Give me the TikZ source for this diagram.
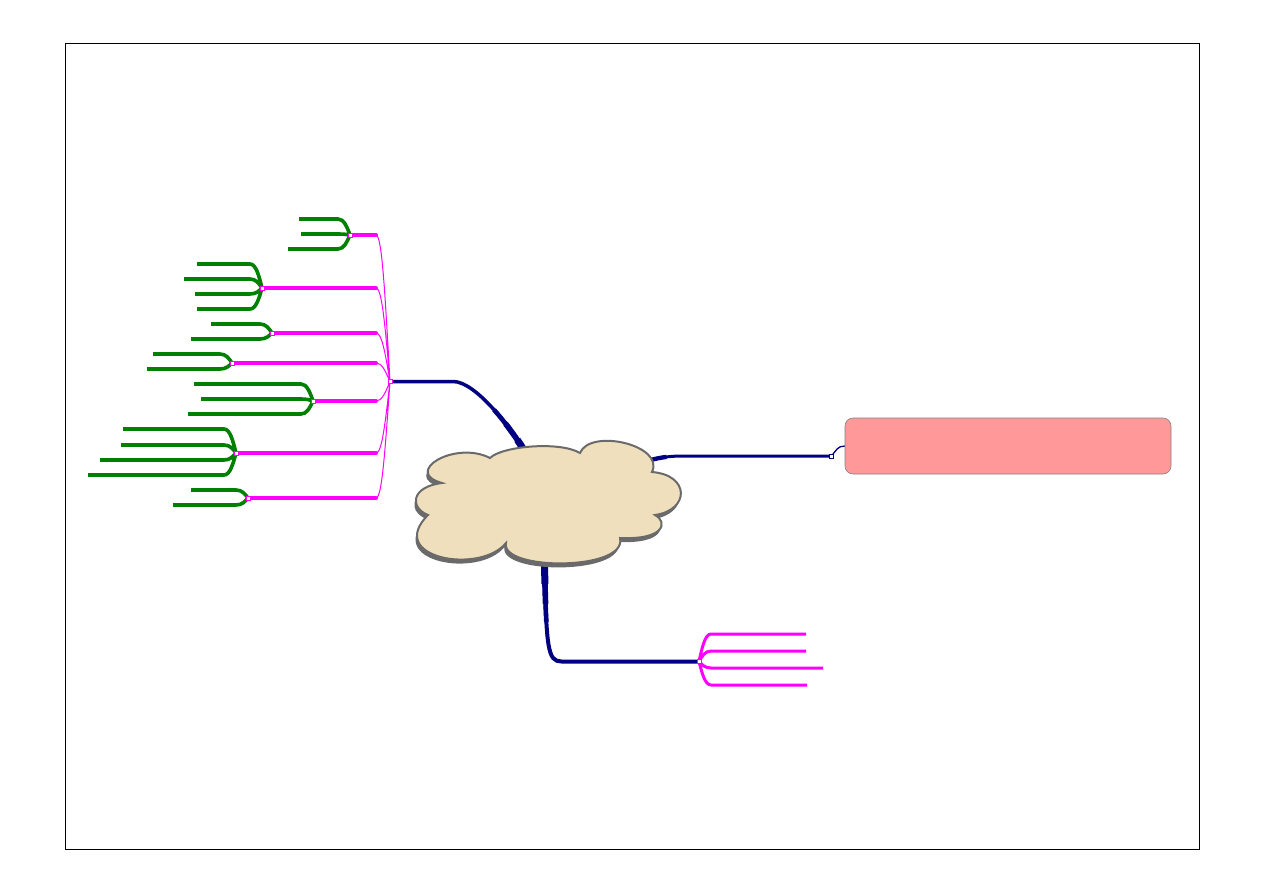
\documentclass[tikz,border=0pt]{standalone}
\usetikzlibrary{calc}
\definecolor{rootblue}{HTML}{000080}
\definecolor{subpink}{HTML}{FF00FF}
\definecolor{leafgreen}{HTML}{008000}
\definecolor{cloudfill}{HTML}{EFDFBC}
\definecolor{cloudline}{HTML}{6A6A6A}
\definecolor{notered}{HTML}{FF9999}

\newcommand{\cloudpath}{(442,483) .. controls (402,472) and (455,440) .. (490,458)
  .. controls (502,446) and (560,441) .. (580,453)
  .. controls (590,428) and (665,445) .. (652,472)
  .. controls (690,475) and (690,510) .. (655,515)
  .. controls (668,522) and (665,540) .. (620,538)
  .. controls (628,571) and (500,571) .. (506,543)
  .. controls (480,575) and (385,558) .. (428,515)
  .. controls (410,508) and (410,487) .. (442,483) -- cycle}

\begin{document}
\begin{tikzpicture}[x=1pt,y=-1pt]
        \tikzset{rootline/.style={draw=rootblue, line width=#1}, rootline/.default=3.5pt}
        \tikzset{taper/.style={preaction={draw=rootblue, line width=7pt, dash pattern=on 18pt off 2000pt},
                preaction={draw=rootblue, line width=5.6pt, dash pattern=on 38pt off 2000pt},
                preaction={draw=rootblue, line width=4.6pt, dash pattern=on 56pt off 2000pt}}}
        \tikzset{subthin/.style={draw=subpink, line width=1pt}}
        \tikzset{subthick/.style={draw=subpink, line width=4pt, line cap=round}}
        \tikzset{leafline/.style={draw=leafgreen, line width=3.6pt}}
        \tikzset{pinkleaf/.style={draw=subpink, line width=3pt}}
        \tikzset{hubdot/.style={draw=#1, fill=white, line width=0.7pt, inner sep=0pt, minimum size=4pt}}
        \tikzset{notebox/.style={draw=gray, fill=notered, line width=0.6pt, rounded corners=8pt,
                minimum width=326pt, minimum height=56pt, inner sep=0pt}}
        \tikzset{subcurve/.style={to path={.. controls ($(\tikztostart)!0.6!(\tikztostart|-\tikztotarget)+(-5,0)$)
                and ($(\tikztostart|-\tikztotarget)+(-8,0)$) .. ($(\tikztostart|-\tikztotarget)+(-14,0)$) -- (\tikztotarget)}}}
        \tikzset{leafcurve/.style={to path={.. controls ($(\tikztostart)!0.5!(\tikztostart|-\tikztotarget)+(#1*3,0)$)
                and ($(\tikztostart|-\tikztotarget)+(#1*6,0)$) .. ($(\tikztostart|-\tikztotarget)+(#1*12,0)$) -- (\tikztotarget)}},
                leafcurve/.default=-1}

        \useasboundingbox (0,0) rectangle (1263,893);
        \draw[line width=0.8pt] (65,43) rectangle (1199,849);

        % hubs
        \coordinate (ctop) at (527,455);
        \coordinate (cright) at (647,461);
        \coordinate (cbot) at (544.5,566);
        \coordinate (lhub) at (390,381.5);
        \coordinate (rhub) at (699,661.5);
        \coordinate (rdot) at (831.5,456);
        \coordinate (s1) at (350,235);
        \coordinate (s2) at (262,288);
        \coordinate (s3) at (272,333);
        \coordinate (s4) at (232,363);
        \coordinate (s5) at (313,401);
        \coordinate (s6) at (236,453);
        \coordinate (s7) at (248,498);

        % leaf ends
        \coordinate (s1a) at (299,219); \coordinate (s1b) at (301,234); \coordinate (s1c) at (288,249);
        \coordinate (s2a) at (197,264); \coordinate (s2b) at (184,279); \coordinate (s2c) at (195,294); \coordinate (s2d) at (197,309);
        \coordinate (s3a) at (211,324); \coordinate (s3b) at (191,339);
        \coordinate (s4a) at (153,354); \coordinate (s4b) at (147,369);
        \coordinate (s5a) at (194,384); \coordinate (s5b) at (201,399); \coordinate (s5c) at (188,414);
        \coordinate (s6a) at (123,429); \coordinate (s6b) at (121,445); \coordinate (s6c) at (100,460); \coordinate (s6d) at (88,475);
        \coordinate (s7a) at (191,490); \coordinate (s7b) at (173,505);
        \coordinate (r1) at (806,634); \coordinate (r2) at (806,651); \coordinate (r3) at (823,668); \coordinate (r4) at (807,685);

        % main branches
        \draw[rootline, taper] (ctop) .. controls +(-18,-30) and +(22,0) .. ($(lhub)+(63,0)$) -- (lhub);
        \draw[rootline=3pt, preaction={draw=rootblue, line width=4.3pt, dash pattern=on 20pt off 2000pt}]
                (cright) .. controls +(14,-4) and +(-14,0) .. ($(rdot)+(-147,0)$) -- (rdot);
        \draw[rootline=4pt, taper] (cbot) .. controls +(2,82) and +(-14,0) .. ($(cbot|-rhub)+(17,0)$) -- (rhub);

        % central topic
        \fill[cloudline, shift={(-1.5,4)}] \cloudpath;
        \filldraw[fill=cloudfill, draw=cloudline, line width=2pt] \cloudpath;

        \node[notebox] (note) at (1008,446) {};
        \draw[rootline=1.3pt] (rdot) .. controls +(5,-6) and +(-7,0) .. (note.west);

        % left subtopics
        \draw[subthin] (lhub) to[subcurve] (s1) (lhub) to[subcurve] (s2) (lhub) to[subcurve] (s3)
                (lhub) to[subcurve] (s4) (lhub) to[subcurve] (s5) (lhub) to[subcurve] (s6) (lhub) to[subcurve] (s7);
        \draw[subthick, shorten >=14pt] (s1) -- (lhub|-s1);
        \draw[subthick, shorten >=14pt] (s2) -- (lhub|-s2);
        \draw[subthick, shorten >=14pt] (s3) -- (lhub|-s3);
        \draw[subthick, shorten >=14pt] (s4) -- (lhub|-s4);
        \draw[subthick, shorten >=14pt] (s5) -- (lhub|-s5);
        \draw[subthick, shorten >=14pt] (s6) -- (lhub|-s6);
        \draw[subthick, shorten >=14pt] (s7) -- (lhub|-s7);

        % leaves
        \draw[leafline] (s1) to[leafcurve] (s1a) (s1) to[leafcurve] (s1b) (s1) to[leafcurve] (s1c);
        \draw[leafline] (s2) to[leafcurve] (s2a) (s2) to[leafcurve] (s2b) (s2) to[leafcurve] (s2c) (s2) to[leafcurve] (s2d);
        \draw[leafline] (s3) to[leafcurve] (s3a) (s3) to[leafcurve] (s3b);
        \draw[leafline] (s4) to[leafcurve] (s4a) (s4) to[leafcurve] (s4b);
        \draw[leafline] (s5) to[leafcurve] (s5a) (s5) to[leafcurve] (s5b) (s5) to[leafcurve] (s5c);
        \draw[leafline] (s6) to[leafcurve] (s6a) (s6) to[leafcurve] (s6b) (s6) to[leafcurve] (s6c) (s6) to[leafcurve] (s6d);
        \draw[leafline] (s7) to[leafcurve] (s7a) (s7) to[leafcurve] (s7b);
        \draw[pinkleaf] (rhub) to[leafcurve=1] (r1) (rhub) to[leafcurve=1] (r2) (rhub) to[leafcurve=1] (r3) (rhub) to[leafcurve=1] (r4);

        % hub markers
        \node[hubdot=subpink] (lhubdot) at (lhub) {};
        \node[hubdot=subpink] (s1dot) at (s1) {};
        \node[hubdot=subpink] (s2dot) at (s2) {};
        \node[hubdot=subpink] (s3dot) at (s3) {};
        \node[hubdot=subpink] (s4dot) at (s4) {};
        \node[hubdot=subpink] (s5dot) at (s5) {};
        \node[hubdot=subpink] (s6dot) at (s6) {};
        \node[hubdot=subpink] (s7dot) at (s7) {};
        \node[hubdot=subpink] (rhubdot) at (rhub) {};
        \node[hubdot=rootblue] (rdotdot) at (rdot) {};
    \end{tikzpicture}
\end{document}
